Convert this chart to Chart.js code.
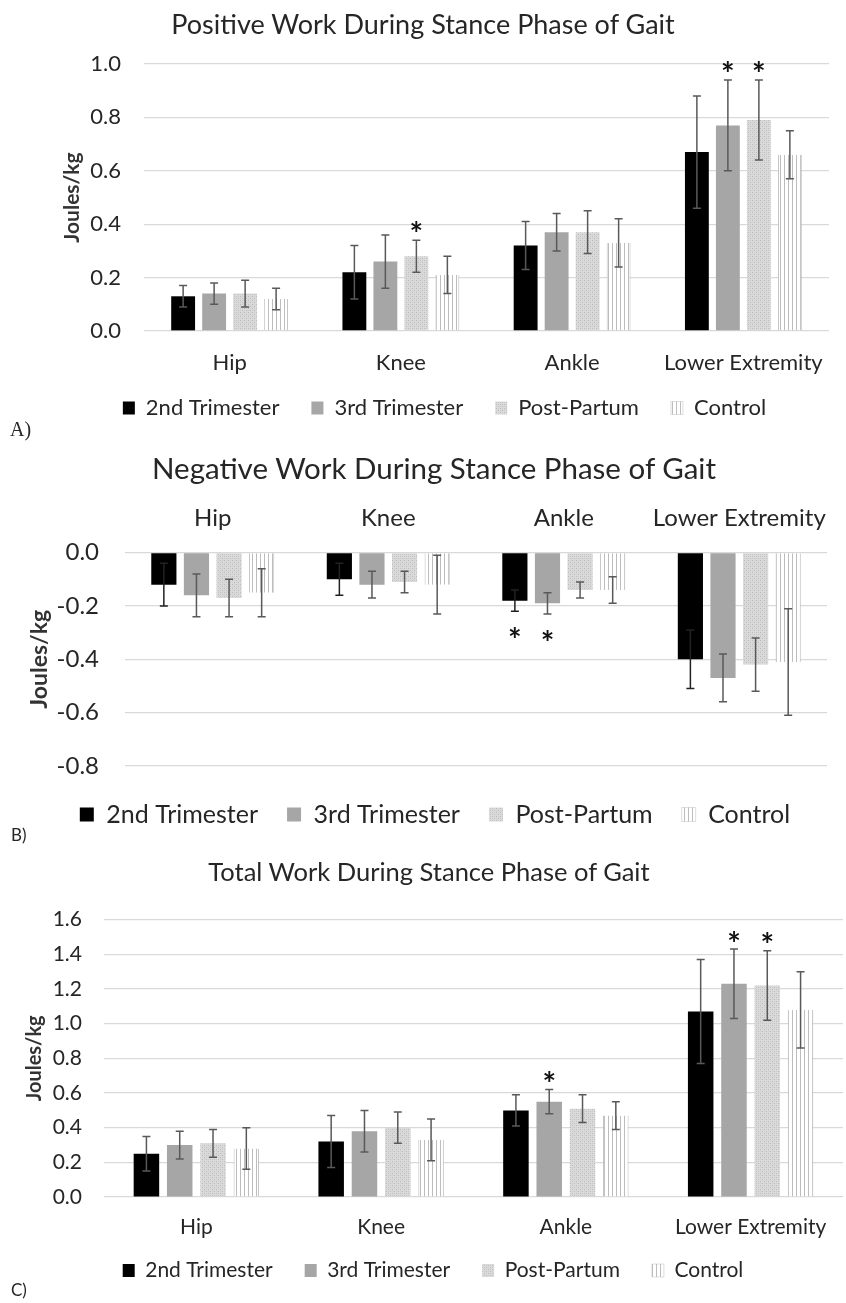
<!DOCTYPE html>
<html>
<head>
<meta charset="utf-8">
<script src="https://cdn.jsdelivr.net/npm/chart.js@4.4.1/dist/chart.umd.min.js"></script>
<style>
  body { margin:0; background:#fff; width:846px; height:1303px; position:relative; overflow:hidden; font-family:Lato, "Open Sans", sans-serif; color:#262626; }
  .t { position:absolute; white-space:nowrap; transform:translate(-50%,-50%); line-height:1; }
  .p { position:absolute; line-height:1; white-space:nowrap; transform:translateY(-50%); }
  canvas { position:absolute; left:0; }
</style>
</head>
<body>
<canvas id="cA" width="846" height="429" style="top:0px"></canvas>
<canvas id="cB" width="846" height="357" style="top:480px"></canvas>
<canvas id="cC" width="846" height="406" style="top:885px"></canvas>

<div class="t" style="left:423px;top:23px;font-size:27px">Positive Work During Stance Phase of Gait</div>
<div class="p" style="left:10px;top:429px;font-size:20px;font-family:'Liberation Serif',serif">A)</div>
<div class="t" style="left:434px;top:468px;font-size:29.5px">Negative Work During Stance Phase of Gait</div>
<div class="p" style="left:11px;top:834px;font-size:17px">B)</div>
<div class="t" style="left:429px;top:872px;font-size:25.5px">Total Work During Stance Phase of Gait</div>
<div class="p" style="left:11px;top:1289px;font-size:17px">C)</div>

<script>
// ---------- data ----------
const categories = ['Hip', 'Knee', 'Ankle', 'Lower Extremity'];
const seriesNames = ['2nd Trimester', '3rd Trimester', 'Post-Partum', 'Control'];

// A) Positive work (J/kg), mean and SD
const posT2 = [0.13, 0.22, 0.32, 0.67];
const posT2Err = [0.04, 0.10, 0.09, 0.21];
const posT3 = [0.14, 0.26, 0.37, 0.77];
const posT3Err = [0.04, 0.10, 0.07, 0.17];
const posPP = [0.14, 0.28, 0.37, 0.79];
const posPPErr = [0.05, 0.06, 0.08, 0.15];
const posCtl = [0.12, 0.21, 0.33, 0.66];
const posCtlErr = [0.04, 0.07, 0.09, 0.09];
const posTicks = [0.0, 0.2, 0.4, 0.6, 0.8, 1.0];
const posStars = [[2, 1], [1, 3], [2, 3]];   // [series, category]

// B) Negative work
const negT2 = [-0.12, -0.10, -0.18, -0.40];
const negT2Err = [0.08, 0.06, 0.04, 0.11];
const negT3 = [-0.16, -0.12, -0.19, -0.47];
const negT3Err = [0.08, 0.05, 0.04, 0.09];
const negPP = [-0.17, -0.11, -0.14, -0.42];
const negPPErr = [0.07, 0.04, 0.03, 0.10];
const negCtl = [-0.15, -0.12, -0.14, -0.41];
const negCtlErr = [0.09, 0.11, 0.05, 0.20];
const negTicks = [-0.8, -0.6, -0.4, -0.2, 0.0];
const negStars = [[0, 2], [1, 2]];

// C) Total work
const totT2 = [0.25, 0.32, 0.50, 1.07];
const totT2Err = [0.10, 0.15, 0.09, 0.30];
const totT3 = [0.30, 0.38, 0.55, 1.23];
const totT3Err = [0.08, 0.12, 0.07, 0.20];
const totPP = [0.31, 0.40, 0.51, 1.22];
const totPPErr = [0.08, 0.09, 0.08, 0.20];
const totCtl = [0.28, 0.33, 0.47, 1.08];
const totCtlErr = [0.12, 0.12, 0.08, 0.22];
const totTicks = [0.0, 0.2, 0.4, 0.6, 0.8, 1.0, 1.2, 1.4, 1.6];
const totStars = [[1, 2], [1, 3], [2, 3]];

// ---------- styling ----------
const F = 'Lato, "Open Sans", sans-serif';
const TXT = '#262626';
const GRID = '#d9d9d9';
Chart.defaults.font.family = F;
Chart.defaults.color = TXT;

function dotPattern() {
  const c = document.createElement('canvas'); c.width = 4; c.height = 4;
  const x = c.getContext('2d');
  x.fillStyle = '#dadada'; x.fillRect(0, 0, 4, 4);
  x.fillStyle = '#bcbcbc'; x.fillRect(0, 0, 1, 1); x.fillRect(2, 2, 1, 1);
  x.fillStyle = '#cccccc'; x.fillRect(2, 0, 1, 1); x.fillRect(0, 2, 1, 1);
  return x.createPattern(c, 'repeat');
}
function stripePattern() {
  const c = document.createElement('canvas'); c.width = 4; c.height = 4;
  const x = c.getContext('2d');
  x.fillStyle = '#ffffff'; x.fillRect(0, 0, 4, 4);
  x.fillStyle = '#bdbdbd'; x.fillRect(0, 0, 1, 4);
  return x.createPattern(c, 'repeat');
}
const fills = ['#000000', '#a6a6a6', dotPattern(), stripePattern()];
const borderW = [0, 0, 0, {left: 1, right: 1, top: 0, bottom: 0}];
const borderC = ['#000000', '#a6a6a6', '#d0d0d0', '#bdbdbd'];

function makeDatasets(vals, errs) {
  return seriesNames.map((name, i) => ({
    label: name, data: vals[i], errors: errs[i],
    backgroundColor: fills[i], borderColor: borderC[i], borderWidth: borderW[i],
    borderSkipped: false
  }));
}

const errorBarPlugin = {
  id: 'errbars',
  afterDatasetsDraw(chart, args, opts) {
    const ctx = chart.ctx, ys = chart.scales.y;
    chart.data.datasets.forEach((ds, i) => {
      const meta = chart.getDatasetMeta(i);
      meta.data.forEach((bar, j) => {
        const v = ds.data[j], e = ds.errors[j];
        const y1 = ys.getPixelForValue(v + e), y2 = ys.getPixelForValue(v - e), x = bar.x;
        ctx.save();
        ctx.strokeStyle = (opts.colors && opts.colors[i]) || '#595959';
        ctx.lineWidth = 1.5;
        ctx.beginPath();
        ctx.moveTo(x, y1); ctx.lineTo(x, y2);
        ctx.moveTo(x - 4, y1); ctx.lineTo(x + 4, y1);
        ctx.moveTo(x - 4, y2); ctx.lineTo(x + 4, y2);
        ctx.stroke();
        ctx.restore();
      });
    });
  }
};

const starPlugin = {
  id: 'stars',
  afterDatasetsDraw(chart, args, opts) {
    const ctx = chart.ctx, ys = chart.scales.y;
    ctx.save();
    ctx.fillStyle = '#111';
    ctx.font = 'bold ' + opts.size + 'px ' + F;
    ctx.textAlign = 'center';
    ctx.textBaseline = 'alphabetic';
    const m = ctx.measureText('*');
    const asc = m.actualBoundingBoxAscent, desc = m.actualBoundingBoxDescent;
    (opts.marks || []).forEach(([di, ci]) => {
      const ds = chart.data.datasets[di];
      const el = chart.getDatasetMeta(di).data[ci];
      const v = ds.data[ci], e = ds.errors[ci];
      const cy = opts.below ? ys.getPixelForValue(v - e) + opts.offset : ys.getPixelForValue(v + e) - opts.offset;
      ctx.fillText('*', el.x, cy + (asc - desc) / 2);
    });
    ctx.restore();
  }
};

function build(id, o) {
  return new Chart(document.getElementById(id), {
    type: 'bar',
    data: { labels: categories, datasets: makeDatasets(o.vals, o.errs) },
    plugins: [errorBarPlugin, starPlugin],
    options: {
      responsive: false, animation: false, devicePixelRatio: 1,
      layout: { padding: o.pad },
      datasets: { bar: { categoryPercentage: o.catPct, barPercentage: o.barPct } },
      plugins: {
        tooltip: { enabled: false },
        title: { display: false },
        legend: {
          position: 'bottom',
          title: { display: o.legGap > 0, text: ' ', font: { size: 1 }, padding: { top: o.legGap, bottom: 0 } },
          labels: { font: { size: o.legSize }, color: TXT, boxWidth: o.box[0], boxHeight: o.box[1], padding: o.legPad }
        },
        errbars: { colors: o.errColors },
        stars: { marks: o.stars, below: o.below, offset: o.starOff, size: o.starSize }
      },
      scales: {
        x: {
          position: o.xPos,
          grid: { display: false, drawTicks: false },
          border: { display: false },
          ticks: { font: { size: o.xSize }, color: TXT, padding: o.xPadding, maxRotation: 0, autoSkip: false },
          afterFit(s) { s.height = o.xHeight; s._computeLabelArea = function () { return undefined; }; }
        },
        y: {
          min: o.ticks[0], max: o.ticks[o.ticks.length - 1],
          afterBuildTicks(s) { s.ticks = o.ticks.map(v => ({ value: v })); },
          grid: { color: GRID, lineWidth: 1.3, drawTicks: false },
          border: { display: false },
          ticks: { font: { size: o.ySize }, color: TXT, padding: o.yPadding, callback: v => Number(v).toFixed(1) },
          title: { display: true, text: 'Joules/kg', font: { size: o.tSize, weight: 'bold' }, color: '#333', padding: 0 },
          afterFit(s) { s.width = o.yWidth; }
        }
      }
    }
  });
}

build('cA', {
  vals: [posT2, posT3, posPP, posCtl], errs: [posT2Err, posT3Err, posPPErr, posCtlErr],
  ticks: posTicks, stars: posStars, below: false, starOff: 14, starSize: 32,
  pad: { left: 60, right: 17, top: 64, bottom: 0 },
  catPct: 0.724, barPct: 0.77, legSize: 22, box: [12, 13], legPad: 32, legGap: 0,
  xPos: 'bottom', xSize: 22, xPadding: 19, xHeight: 34,
  ySize: 22, yPadding: 23, yWidth: 84, tSize: 21
});

build('cB', {
  vals: [negT2, negT3, negPP, negCtl], errs: [negT2Err, negT3Err, negPPErr, negCtlErr],
  ticks: negTicks, stars: negStars, below: true, starOff: 21, starSize: 32,
  errColors: ['#222222', '#595959', '#595959', '#595959'],
  pad: { left: 26, right: 2, top: 0, bottom: 0 },
  catPct: 0.743, barPct: 0.772, legSize: 25, box: [14, 14], legPad: 29, legGap: 6,
  xPos: 'top', xSize: 24, xPadding: 20, xHeight: 72.7,
  ySize: 24, yPadding: 26, yWidth: 99, tSize: 23
});

build('cC', {
  vals: [totT2, totT3, totPP, totCtl], errs: [totT2Err, totT3Err, totPPErr, totCtlErr],
  ticks: totTicks, stars: totStars, below: false, starOff: 13.5, starSize: 32,
  pad: { left: 23, right: 3, top: 24.5, bottom: 0 },
  catPct: 0.721, barPct: 0.766, legSize: 21, box: [12, 13], legPad: 32, legGap: 0,
  xPos: 'bottom', xSize: 21, xPadding: 18, xHeight: 30.9,
  ySize: 21, yPadding: 22, yWidth: 81, tSize: 20
});
</script>
</body>
</html>
